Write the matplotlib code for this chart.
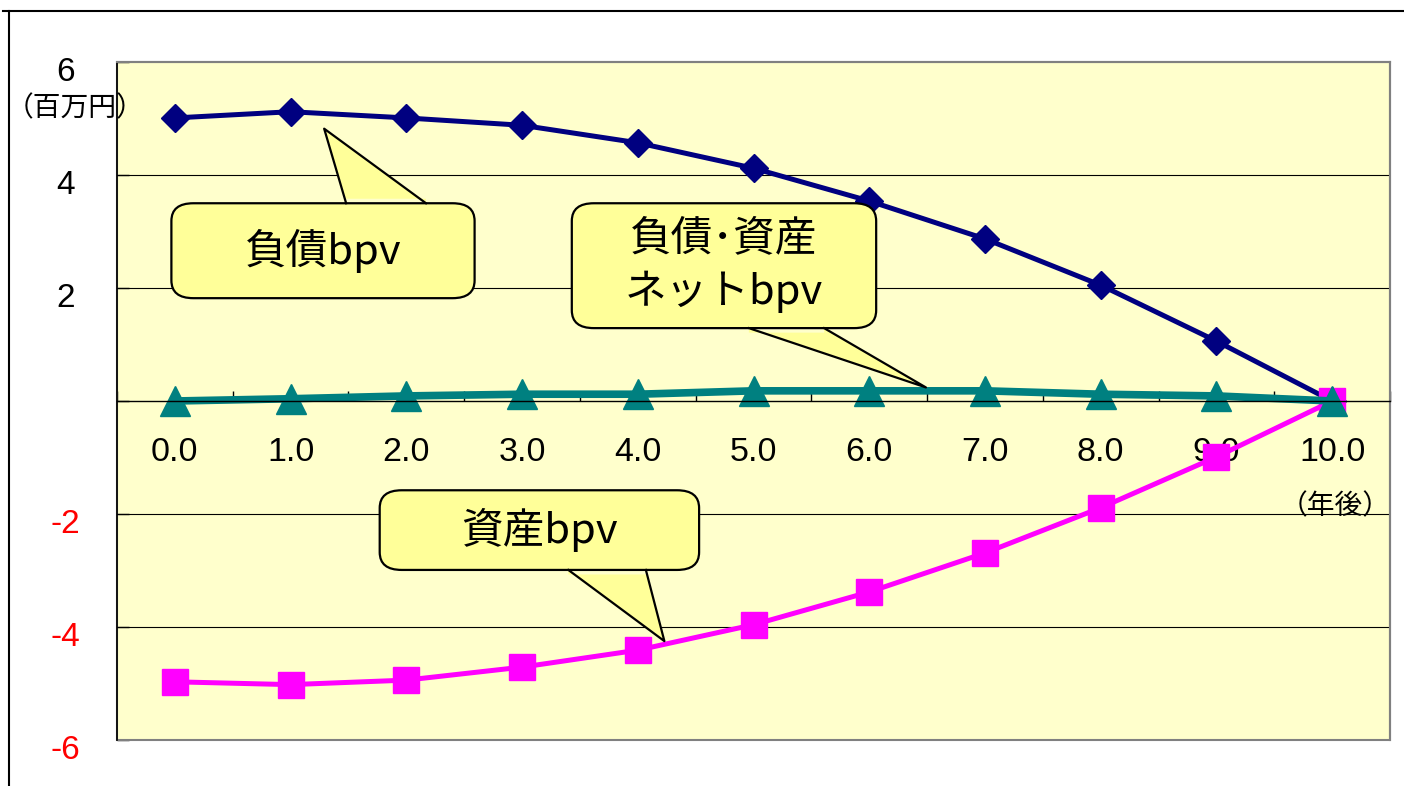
import numpy as np
import matplotlib
matplotlib.use('Agg')
import matplotlib.pyplot as plt
import matplotlib.transforms as mtransforms
from matplotlib.patches import FancyBboxPatch, Polygon, Rectangle
from matplotlib.lines import Line2D

# data (百万円)
years = ['0.0', '1.0', '2.0', '3.0', '4.0', '5.0', '6.0', '7.0', '8.0', '9.0', '10.0']
liability_bpv = [5.01, 5.12, 5.01, 4.88, 4.57, 4.12, 3.54, 2.87, 2.05, 1.06, 0.0]
asset_bpv = [-4.97, -5.02, -4.94, -4.71, -4.41, -3.96, -3.38, -2.69, -1.89, -0.99, 0.0]
net_bpv = [0.0, 0.04, 0.09, 0.12, 0.12, 0.18, 0.18, 0.18, 0.12, 0.09, 0.0]

y_ticks = [-6, -4, -2, 0, 2, 4, 6]
y_labels = ['-6', '-4', '-2', '', '2', '4', '6']

JP = ['Noto Sans CJK JP', 'DejaVu Sans']
NUM = ['Liberation Sans', 'DejaVu Sans']


def callout(ax, box, base, tip, text, fs=30, lsp=1.2):
    """Rounded callout box with a wedge pointing to tip (data coords)."""
    x0, y0, x1, y1 = box
    fc = '#FFFF99'
    ax.add_patch(FancyBboxPatch((x0, y0), x1 - x0, y1 - y0,
                                boxstyle='round,pad=0,rounding_size=0.19',
                                fc=fc, ec='black', lw=1.6, zorder=5,
                                mutation_aspect=1.65))
    (bx0, by), (bx1, _) = base
    inward = -0.08 if by < (y0 + y1) / 2 else 0.08
    ax.add_patch(Polygon([(bx0, by + inward), (bx0, by), tip, (bx1, by), (bx1, by + inward)],
                         closed=True, fc=fc, ec='none', zorder=5.1))
    ax.add_line(Line2D([bx0, tip[0], bx1], [by, tip[1], by], color='black', lw=1.6, zorder=5.2))
    ax.text((x0 + x1) / 2, (y0 + y1) / 2, text, ha='center', va='center',
            fontsize=fs, family=JP, linespacing=lsp, zorder=6)


fig = plt.figure(figsize=(14.04, 7.86), dpi=100)
ax = fig.add_axes([117 / 1404, 1 - 740 / 786, (1390 - 117) / 1404, (740 - 62) / 786])
ax.set_facecolor('#FFFFCC')
ax.set_axisbelow(True)

x = np.arange(len(years))
ax.plot(x, liability_bpv, color='#000080', lw=3.6, marker='D', ms=14, mec='#000080', zorder=2)
ax.plot(x, asset_bpv, color='#FF00FF', lw=3.6, marker='s', ms=19, mec='#FF00FF', zorder=2.1)
ax.plot(x, net_bpv, color='#008080', lw=5.5, marker='^', ms=21, mec='#008080', zorder=2.2)

ax.set_xlim(-0.5, 10.5)
ax.set_ylim(-6, 6)

for g in [4, 2, -2, -4]:
    ax.axhline(g, color='black', lw=0.8, zorder=1)

# frame
for s in ['top', 'right']:
    ax.spines[s].set_color('#808080')
    ax.spines[s].set_linewidth(1.5)
ax.spines['left'].set_color('black')
ax.spines['left'].set_linewidth(1.2)
ax.spines['bottom'].set_position(('data', 0))
ax.spines['bottom'].set_linewidth(1.0)
ax.add_patch(Rectangle((0, 0), 1, 1, transform=ax.transAxes, fill=False,
                       ec='#808080', lw=1.5, clip_on=False, zorder=0.6))

# x axis: tick marks between categories, labels at categories
ax.set_xticks(np.arange(-0.5, 11, 1))
ax.set_xticklabels([])
ax.tick_params(axis='x', which='major', direction='in', length=7, width=1.0)
ax.set_xticks(x, minor=True)
ax.set_xticklabels(years, minor=True, family=NUM, fontsize=24.5)
ax.tick_params(axis='x', which='minor', length=0, pad=26)

# y axis
ax.set_yticks(y_ticks)
ax.set_yticklabels(y_labels, family=NUM, fontsize=24)
ax.tick_params(axis='y', direction='in', length=8.5, width=1.0, pad=37)
shift = mtransforms.ScaledTranslation(0, -5 / 72, fig.dpi_scale_trans)
for lab, v in zip(ax.get_yticklabels(), y_ticks):
    lab.set_ha('center')
    lab.set_color('red' if v < 0 else 'black')
    lab.set_transform(lab.get_transform() + shift)

fig.text(75 / 1404, 1 - 108 / 786, '（百万円）', ha='center', va='center', fontsize=20, family=JP)
ax.text(10.03, -1.86, '（年後）', ha='center', va='center', fontsize=20, family=JP, zorder=3)

# callouts
callout(ax, (-0.03, 1.82, 2.59, 3.50), ((1.48, 3.50), (2.17, 3.50)), (1.29, 4.82), '負債bpv')
callout(ax, (3.43, 1.29, 6.06, 3.50), ((4.96, 1.29), (5.61, 1.29)), (6.49, 0.24), '負債･資産\nネットbpv', lsp=1.35)
callout(ax, (1.77, -2.99, 4.53, -1.58), ((3.40, -2.99), (4.07, -2.99)), (4.23, -4.25), '資産bpv')

# outer frame of the picture
fig.add_artist(Line2D([3 / 1404, 1], [1 - 11 / 786] * 2, transform=fig.transFigure, color='black', lw=1.5))
fig.add_artist(Line2D([9 / 1404] * 2, [0, 1 - 11 / 786], transform=fig.transFigure, color='black', lw=1.5))

fig.savefig('out.png', dpi=100)
